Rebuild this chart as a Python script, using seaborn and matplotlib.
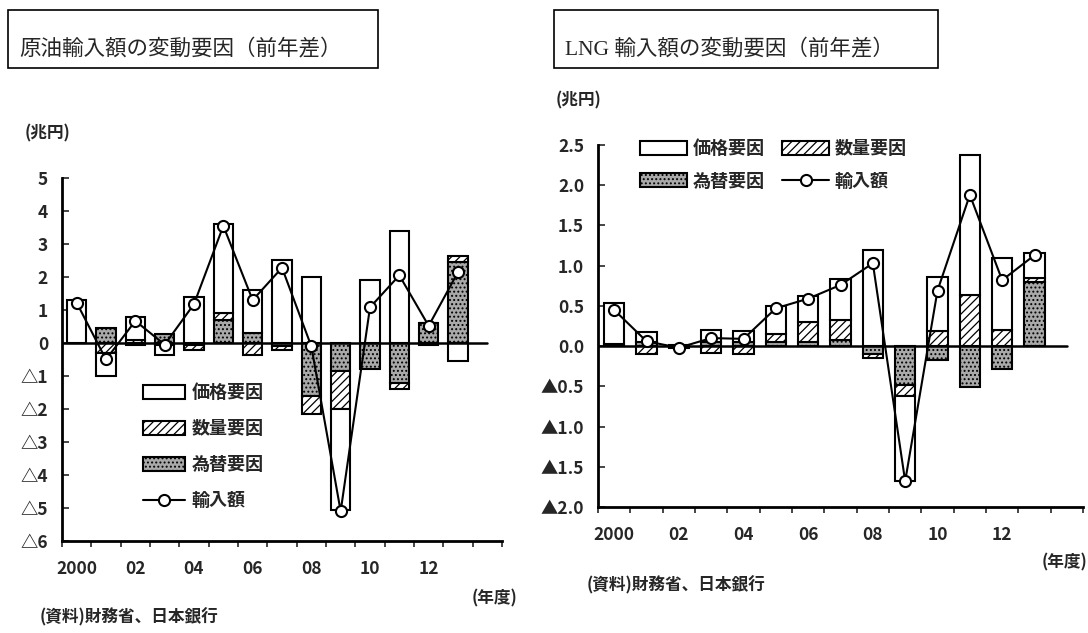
import numpy as np
import matplotlib
matplotlib.use("Agg")
import matplotlib.pyplot as plt
from matplotlib.patches import Patch, Rectangle
from matplotlib.lines import Line2D
import seaborn as sns

# 年度 (2000-2013)
years = ["2000", "01", "02", "03", "04", "05", "06", "07", "08", "09", "10", "11", "12", "13"]
tick_labels = ["2000", "02", "04", "06", "08", "10", "12"]

# 原油輸入額の変動要因 (兆円)
oil_fx = [0.0, 0.45, -0.05, 0.28, -0.05, 0.7, 0.3, -0.1, -1.6, -0.85, -0.8, -1.2, 0.6, 2.45]
oil_qty = [0.0, -0.3, 0.1, -0.05, -0.15, 0.2, -0.35, -0.1, -0.55, -1.15, 0.0, -0.2, 0.0, 0.2]
oil_price = [1.3, -0.7, 0.68, -0.3, 1.4, 2.7, 1.3, 2.5, 2.0, -3.05, 1.9, 3.4, -0.05, -0.55]
oil_total = [1.22, -0.5, 0.67, -0.05, 1.18, 3.55, 1.3, 2.28, -0.1, -5.1, 1.08, 2.05, 0.52, 2.15]

# LNG輸入額の変動要因 (兆円)
lng_fx = [0.03, 0.05, 0.0, 0.05, 0.05, 0.05, 0.05, 0.08, -0.1, -0.48, -0.17, -0.51, -0.28, 0.8]
lng_qty = [0.0, -0.1, -0.02, -0.08, -0.1, 0.1, 0.25, 0.24, -0.05, -0.14, 0.19, 0.64, 0.2, 0.05]
lng_price = [0.5, 0.13, 0.01, 0.15, 0.14, 0.35, 0.32, 0.52, 1.2, -1.06, 0.67, 1.73, 0.89, 0.31]
lng_total = [0.45, 0.06, -0.02, 0.1, 0.09, 0.47, 0.59, 0.76, 1.03, -1.68, 0.69, 1.88, 0.82, 1.13]

legend_labels = ["価格要因", "数量要因", "為替要因", "輸入額"]

sns.set_style("white")
plt.rcParams["font.family"] = ["Noto Sans CJK JP", "DejaVu Sans"]
plt.rcParams["hatch.linewidth"] = 0.9

W, H = 1088, 633
fig = plt.figure(figsize=(W / 100, H / 100), dpi=100)


def fx(px):
    return px / W


def fy(py):
    return 1 - py / H


styles = {
    "price": dict(facecolor="white", edgecolor="black", hatch=None),
    "qty": dict(facecolor="white", edgecolor="black", hatch="////"),
    "fx": dict(facecolor="#a9a9a9", edgecolor="black", hatch="...."),
}


def draw_panel(ax, fx_vals, qty_vals, price_vals, total, bar_w):
    n = len(years)
    pos = np.zeros(n)
    neg = np.zeros(n)
    # 為替 -> 数量 -> 価格 の順に0から積み上げ
    for key, vals in [("fx", fx_vals), ("qty", qty_vals), ("price", price_vals)]:
        vals = np.asarray(vals, dtype=float)
        bottom = np.where(vals >= 0, pos, neg)
        sns.barplot(x=years, y=vals, bottom=bottom, ax=ax, color="white", saturation=1,
                    errorbar=None, width=bar_w, linewidth=1.5, zorder=2, **styles[key])
        pos += np.clip(vals, 0, None)
        neg += np.clip(vals, None, 0)
    ax.axhline(0, xmin=0, xmax=14.5 / 15, color="black", lw=1.8, zorder=4)
    sns.lineplot(x=np.arange(n), y=total, ax=ax, color="black", lw=1.5, marker="o",
                 markersize=8, markerfacecolor="white", markeredgecolor="black",
                 markeredgewidth=1.5, zorder=5)
    ax.set_xlim(-0.5, 14.5)
    ax.set_xticks(range(0, 14, 2))
    ax.set_xticklabels(tick_labels, fontsize=12.5, fontweight="bold")
    ax.set_xticks(np.arange(-0.5, 15, 1), minor=True)
    ax.tick_params(axis="x", which="major", length=0, pad=14)
    ax.tick_params(axis="x", which="minor", length=4, width=1.2, direction="out", bottom=True)
    ax.tick_params(axis="y", direction="in", length=5, width=1.2, left=True, pad=10)
    ax.set_xlabel("")
    ax.set_ylabel("")
    sns.despine(ax=ax)
    for s in ["left", "bottom"]:
        ax.spines[s].set_linewidth(2.0)
        ax.spines[s].set_color("black")


def legend_handles():
    return [
        Patch(facecolor="white", edgecolor="black", linewidth=1.5),
        Patch(facecolor="white", edgecolor="black", hatch="////", linewidth=1.5),
        Patch(facecolor="#a9a9a9", edgecolor="black", hatch="....", linewidth=1.5),
        Line2D([], [], color="black", lw=1.5, marker="o", markersize=8,
               markerfacecolor="white", markeredgecolor="black", markeredgewidth=1.5),
    ]


# ---- 左: 原油 ----
ax1 = fig.add_axes([fx(62), fy(541), fx(440), 363 / H])
draw_panel(ax1, oil_fx, oil_qty, oil_price, oil_total, 0.66)
ax1.set_ylim(-6, 5)
ax1.set_yticks(range(-6, 6))
ax1.set_yticklabels([("△" + str(-v)) if v < 0 else str(v) for v in range(-6, 6)],
                    fontsize=12.5, fontweight="bold")
ax1.legend(legend_handles(), legend_labels, loc="upper left", frameon=False,
           bbox_to_anchor=(fx(143), fy(383)), bbox_transform=fig.transFigure,
           borderpad=0, borderaxespad=0, handlelength=2.3, handleheight=0.8,
           handletextpad=0.4, labelspacing=0.95, prop=dict(size=13, weight="bold"))

# ---- 右: LNG ----
ax2 = fig.add_axes([fx(598), fy(507), fx(485), 362 / H])
draw_panel(ax2, lng_fx, lng_qty, lng_price, lng_total, 0.62)
ax2.set_ylim(-2.0, 2.5)
yt = np.arange(-2.0, 2.51, 0.5)
ax2.set_yticks(yt)
ax2.set_yticklabels([("▲%.1f" % -v) if v < -1e-9 else ("%.1f" % abs(v)) for v in yt],
                    fontsize=12.5, fontweight="bold")
h = legend_handles()
# 2列: 1行目 価格・数量、2行目 為替・輸入額
order = [0, 2, 1, 3]
ax2.legend([h[i] for i in order], [legend_labels[i] for i in order], loc="upper left",
           frameon=False, ncol=2,
           bbox_to_anchor=(fx(640), fy(139)), bbox_transform=fig.transFigure,
           borderpad=0, borderaxespad=0, handlelength=2.6, handleheight=0.8,
           handletextpad=0.3, labelspacing=0.75, columnspacing=1.0,
           prop=dict(size=13, weight="bold"))

# ---- タイトル枠 ----
for x0, x1, title in [(8, 378, "原油輸入額の変動要因（前年差）"),
                      (554, 938, "LNG 輸入額の変動要因（前年差）")]:
    fig.patches.append(Rectangle((fx(x0), fy(68)), fx(x1 - x0), 58 / H, fill=False,
                                 edgecolor="black", lw=1.2, transform=fig.transFigure))
    fig.text(fx(x0 + 11), fy(50), title, fontsize=15.5, va="center", ha="left",
             family=["Liberation Serif", "Noto Sans CJK JP"])

# ---- 注記 ----
bold = dict(fontsize=12, fontweight="bold", va="center")
fig.text(fx(25), fy(133), "(兆円)", ha="left", **bold)
fig.text(fx(556), fy(100), "(兆円)", ha="left", **bold)
fig.text(fx(517), fy(598), "(年度)", ha="right", **bold)
fig.text(fx(1087), fy(562), "(年度)", ha="right", **bold)
fig.text(fx(40), fy(617), "(資料)財務省、日本銀行", ha="left", **bold)
fig.text(fx(587), fy(585), "(資料)財務省、日本銀行", ha="left", **bold)

fig.savefig("out.png", dpi=100)
